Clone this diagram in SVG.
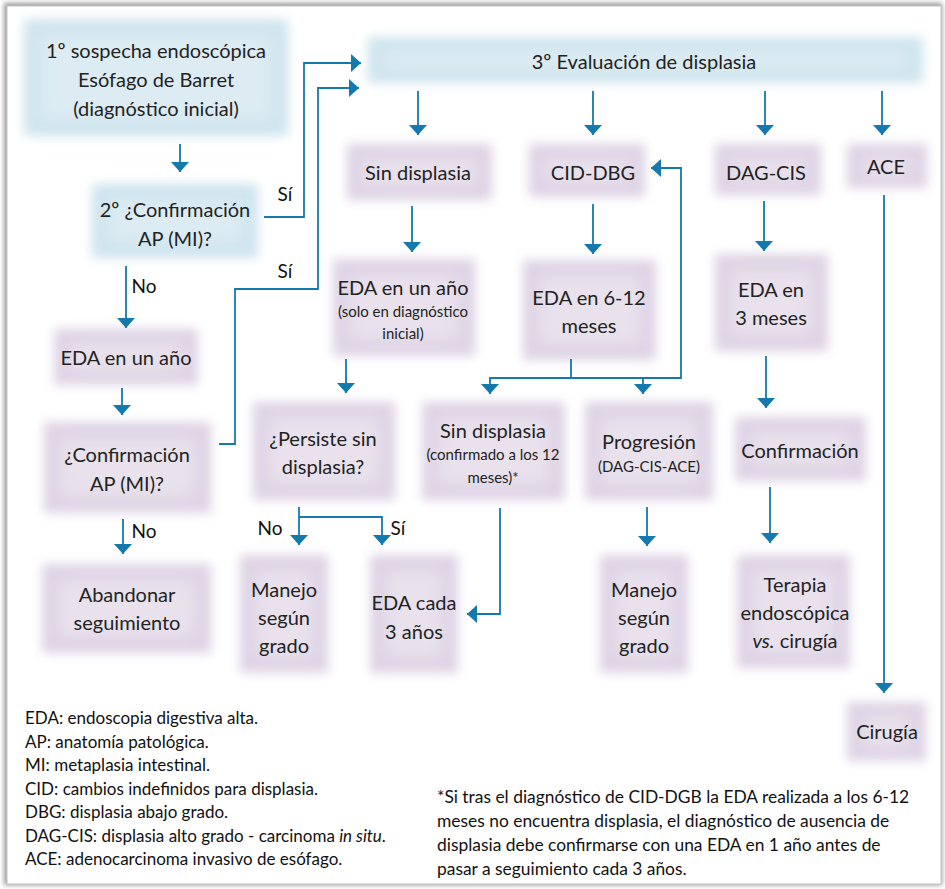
<svg xmlns="http://www.w3.org/2000/svg" width="945" height="889" viewBox="0 0 945 889">
<defs>
<filter id="fo" x="-40%" y="-40%" width="180%" height="180%"><feGaussianBlur stdDeviation="5.5"/></filter>
<filter id="fi" x="-40%" y="-40%" width="180%" height="180%"><feGaussianBlur stdDeviation="8"/></filter>
<filter id="fs" x="-5%" y="-5%" width="110%" height="110%"><feGaussianBlur stdDeviation="2.5"/></filter>
<marker id="ah" viewBox="0 -9 10 18" refX="10" refY="0" markerWidth="10" markerHeight="18" markerUnits="userSpaceOnUse" orient="auto"><path d="M0,-9 L10,0 L0,9 z" fill="#1479ad"/></marker>
</defs>
<style>
text{font-family:Lato,"Liberation Sans",sans-serif;fill:#232323;text-anchor:middle;font-size:20px}
.s{font-size:15px}
.lab{font-size:19px;fill:#111}
.leg{font-size:17px;text-anchor:start;fill:#111}
.fn{font-size:17.4px}
.lo{fill:#ded3e5;filter:url(#fo)}
.li{fill:#e9e2ed;filter:url(#fi)}
.bo{fill:#cfe4ee;filter:url(#fo)}
.bi{fill:#ddecf3;filter:url(#fi)}
.c{fill:none;stroke:#1479ad;stroke-width:1.8;marker-end:url(#ah)}
</style>
<rect x="4" y="3" width="938" height="882" fill="#9a9a9a" filter="url(#fs)"/>
<rect x="7" y="6" width="934" height="878" fill="#fff" stroke="#c4c4c4" stroke-width="1"/>

<g id="n1"><rect class="bo" x="24" y="19" width="264" height="117"/><rect class="bi" x="40" y="35" width="232" height="85"/>
<text x="156" y="58">1º sospecha endoscópica</text><text x="156" y="87">Esófago de Barret</text><text x="156" y="116">(diagnóstico inicial)</text></g>
<g id="n2"><rect class="bo" x="92" y="184" width="166" height="74"/><rect class="bi" x="108" y="200" width="134" height="42"/>
<text x="175" y="217">2º ¿Confirmación</text><text x="175" y="246">AP (MI)?</text></g>
<g id="n3"><rect class="bo" x="368" y="37" width="555" height="46"/><rect class="bi" x="384" y="50" width="523" height="20"/>
<text x="644" y="69">3º Evaluación de displasia</text></g>

<g id="n4"><rect class="lo" x="347" y="144" width="145" height="56"/><rect class="li" x="363" y="158" width="113" height="28"/><text x="418" y="180">Sin displasia</text></g>
<g id="n5"><rect class="lo" x="529" y="144" width="116" height="53"/><rect class="li" x="545" y="158" width="84" height="25"/><text x="593" y="180">CID-DBG</text></g>
<g id="n6"><rect class="lo" x="715" y="144" width="106" height="51"/><rect class="li" x="731" y="158" width="74" height="23"/><text x="766" y="180">DAG-CIS</text></g>
<g id="n7"><rect class="lo" x="847" y="144" width="80" height="44"/><rect class="li" x="863" y="156" width="48" height="20"/><text x="886" y="174">ACE</text></g>

<g id="n8"><rect class="lo" x="333" y="259" width="142" height="97"/><rect class="li" x="349" y="275" width="110" height="65"/>
<text x="403" y="295">EDA en un año</text><text class="s" x="403" y="317">(solo en diagnóstico</text><text class="s" x="403" y="339">inicial)</text></g>
<g id="n9"><rect class="lo" x="523" y="260" width="133" height="100"/><rect class="li" x="539" y="276" width="101" height="68"/>
<text x="589" y="305">EDA en 6-12</text><text x="589" y="333">meses</text></g>
<g id="n10"><rect class="lo" x="715" y="254" width="113" height="97"/><rect class="li" x="731" y="270" width="81" height="65"/>
<text x="771" y="297">EDA en</text><text x="771" y="325">3 meses</text></g>

<g id="n11"><rect class="lo" x="54" y="329" width="144" height="56"/><rect class="li" x="70" y="343" width="112" height="28"/><text x="126" y="365">EDA en un año</text></g>
<g id="n12"><rect class="lo" x="44" y="422" width="167" height="91"/><rect class="li" x="60" y="438" width="135" height="59"/>
<text x="127" y="462">¿Confirmación</text><text x="127" y="491">AP (MI)?</text></g>
<g id="n13"><rect class="lo" x="42" y="564" width="169" height="89"/><rect class="li" x="58" y="580" width="137" height="57"/>
<text x="127" y="602">Abandonar</text><text x="127" y="630">seguimiento</text></g>

<g id="n14"><rect class="lo" x="253" y="402" width="142" height="98"/><rect class="li" x="269" y="418" width="110" height="66"/>
<text x="323" y="446">¿Persiste sin</text><text x="323" y="474">displasia?</text></g>
<g id="n15"><rect class="lo" x="422" y="402" width="143" height="98"/><rect class="li" x="438" y="418" width="111" height="66"/>
<text x="493" y="438">Sin displasia</text><text class="s" x="493" y="460">(confirmado a los 12</text><text class="s" x="493" y="483">meses)*</text></g>
<g id="n16"><rect class="lo" x="585" y="402" width="128" height="98"/><rect class="li" x="601" y="418" width="96" height="66"/>
<text x="649" y="449">Progresión</text><text class="s" x="649" y="472">(DAG-CIS-ACE)</text></g>
<g id="n17"><rect class="lo" x="735" y="417" width="131" height="64"/><rect class="li" x="751" y="433" width="99" height="32"/><text x="800" y="458">Confirmación</text></g>

<g id="n18"><rect class="lo" x="240" y="555" width="88" height="118"/><rect class="li" x="256" y="571" width="56" height="86"/>
<text x="284" y="597">Manejo</text><text x="284" y="625">según</text><text x="284" y="653">grado</text></g>
<g id="n19"><rect class="lo" x="370" y="555" width="88" height="118"/><rect class="li" x="386" y="571" width="56" height="86"/>
<text x="414" y="610">EDA cada</text><text x="414" y="639">3 años</text></g>
<g id="n20"><rect class="lo" x="600" y="555" width="88" height="118"/><rect class="li" x="616" y="571" width="56" height="86"/>
<text x="644" y="597">Manejo</text><text x="644" y="625">según</text><text x="644" y="653">grado</text></g>
<g id="n21"><rect class="lo" x="737" y="555" width="113" height="113"/><rect class="li" x="753" y="571" width="81" height="81"/>
<text x="795" y="592">Terapia</text><text x="795" y="620">endoscópica</text><text x="795" y="648"><tspan font-style="italic">vs.</tspan> cirugía</text></g>
<g id="n22"><rect class="lo" x="847" y="702" width="79" height="59"/><rect class="li" x="863" y="716" width="47" height="31"/><text x="887" y="739">Cirugía</text></g>

<g id="connectors">
<path class="c" d="M180,144 V172"/>
<path class="c" d="M264,217 H304 V63 H361"/>
<path class="c" d="M219,444 H235 V289 H318 V88 H359"/>
<path class="c" d="M126,266 V328"/>
<path class="c" d="M122,388 V415"/>
<path class="c" d="M123,519 V554"/>
<path class="c" d="M418,91 V135"/>
<path class="c" d="M593,91 V135"/>
<path class="c" d="M765,91 V135"/>
<path class="c" d="M882,91 V135"/>
<path class="c" d="M412,206 V252"/>
<path class="c" d="M346,359 V393"/>
<path class="c" d="M593,204 V254"/>
<path class="c" d="M571,359 V378 H490 V394"/>
<path class="c" d="M571,378 H681 V168 H651"/>
<path class="c" d="M643,378 V394"/>
<path class="c" d="M299,507 V545"/>
<path class="c" d="M299,517 H382 V545"/>
<path class="c" d="M500,508 V614 H467"/>
<path class="c" d="M647,507 V546"/>
<path class="c" d="M764,201 V251"/>
<path class="c" d="M766,356 V408"/>
<path class="c" d="M770,487 V543"/>
<path class="c" d="M884,195 V693"/>
</g>
<g id="labels">
<text class="lab" x="285" y="201">Sí</text>
<text class="lab" x="285" y="278">Sí</text>
<text class="lab" x="144" y="293">No</text>
<text class="lab" x="144" y="538">No</text>
<text class="lab" x="270" y="535">No</text>
<text class="lab" x="398" y="535">Sí</text>
</g>
<g id="legend">
<text class="leg" x="25" y="724">EDA: endoscopia digestiva alta.</text>
<text class="leg" x="25" y="748">AP: anatomía patológica.</text>
<text class="leg" x="25" y="771">MI: metaplasia intestinal.</text>
<text class="leg" x="25" y="795">CID: cambios indefinidos para displasia.</text>
<text class="leg" x="25" y="818">DBG: displasia abajo grado.</text>
<text class="leg" x="25" y="842">DAG-CIS: displasia alto grado - carcinoma <tspan font-style="italic">in situ</tspan>.</text>
<text class="leg" x="25" y="865">ACE: adenocarcinoma invasivo de esófago.</text>
<text class="leg fn" x="437" y="803">*Si tras el diagnóstico de CID-DGB la EDA realizada a los 6-12</text>
<text class="leg fn" x="437" y="827">meses no encuentra displasia, el diagnóstico de ausencia de</text>
<text class="leg fn" x="437" y="851">displasia debe confirmarse con una EDA en 1 año antes de</text>
<text class="leg fn" x="437" y="875">pasar a seguimiento cada 3 años.</text>
</g>
</svg>
